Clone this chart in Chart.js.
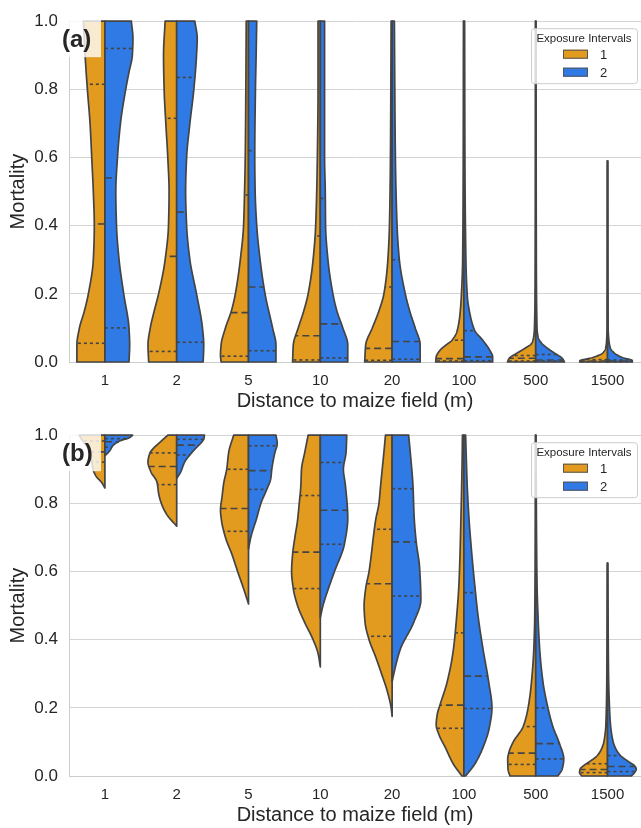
<!DOCTYPE html>
<html>
<head>
<meta charset="utf-8">
<script src="https://cdn.jsdelivr.net/npm/chart.js@4.4.0/dist/chart.umd.min.js"></script>
<style>
  body { margin: 0; background: #fff; }
  canvas { display: block; }
</style>
</head>
<body>
<canvas id="chartA" width="641" height="414"></canvas>
<canvas id="chartB" width="641" height="414"></canvas>
<script>
// distance categories (m) and exposure intervals
const CATEGORIES = ['1', '2', '5', '10', '20', '100', '500', '1500'];
const INTERVALS = ['1', '2'];
const Y_TICKS = [0, 0.2, 0.4, 0.6, 0.8, 1.0];

// relative kernel density per distance: [mortality, density]
const A_INT1_DENSITY = [
  [[0, 28.3], [0.05, 28.3], [0.1, 25.7], [0.15, 20.7], [0.2, 16.7], [0.3, 11.7], [0.4, 10.7], [0.5, 11.7], [0.6, 13.3], [0.7, 15], [0.8, 17.7], [0.9, 20], [1.0, 21.7]],
  [[0, 28.3], [0.05, 29], [0.1, 26.7], [0.15, 22.7], [0.2, 18.3], [0.3, 11.7], [0.4, 8.3], [0.5, 7.7], [0.6, 9], [0.7, 11], [0.8, 12.7], [0.9, 13.3], [1.0, 11.7]],
  [[0, 27.7], [0.02, 28.3], [0.05, 27.7], [0.1, 23.3], [0.15, 17.3], [0.2, 13.3], [0.3, 8.3], [0.4, 5], [0.5, 4], [0.6, 3.3], [0.8, 2.7], [1.0, 2.3]],
  [[0, 28], [0.05, 27.3], [0.1, 22.3], [0.15, 16.7], [0.2, 12.3], [0.3, 7.3], [0.4, 4.7], [0.6, 3], [0.8, 2.3], [1.0, 2.3]],
  [[0, 27.7], [0.05, 26.7], [0.1, 20], [0.15, 13.3], [0.2, 8.3], [0.3, 4.3], [0.4, 2.7], [0.6, 1.7], [0.8, 1.3], [1.0, 1]],
  [[0, 28.5], [0.015, 28], [0.035, 24], [0.05, 18], [0.064, 12], [0.09, 7], [0.14, 4], [0.2, 2.5], [0.3, 1.3], [0.6, 0.7], [1.0, 0.5]],
  [[0, 28.5], [0.01, 27], [0.026, 19], [0.04, 11], [0.055, 4], [0.075, 2], [0.1, 1.3], [0.2, 0.7], [0.5, 0.4], [1.0, 0.3]],
  [[0, 28], [0.003, 28], [0.013, 15], [0.026, 5], [0.04, 2], [0.06, 1], [0.1, 0.5], [0.59, 0.3]]
];
const A_INT2_DENSITY = [
  [[0, 24.3], [0.05, 25], [0.1, 24.3], [0.2, 19], [0.3, 14.3], [0.4, 11.7], [0.5, 11], [0.6, 12.7], [0.7, 15.7], [0.8, 21], [0.85, 24.3], [0.9, 27.7], [0.95, 28.3], [1.0, 26.7]],
  [[0, 26.7], [0.05, 27.3], [0.1, 26], [0.2, 20], [0.3, 13.3], [0.4, 10], [0.5, 9], [0.6, 10], [0.7, 13.3], [0.8, 17.3], [0.9, 20], [0.95, 20.7], [1.0, 18.3]],
  [[0, 27.7], [0.05, 27.7], [0.1, 24.3], [0.2, 16.7], [0.3, 11.7], [0.4, 8.3], [0.5, 6.7], [0.6, 6.3], [0.8, 7], [0.9, 7.7], [1.0, 8.3]],
  [[0, 27.7], [0.05, 27.7], [0.1, 22.7], [0.15, 16.7], [0.2, 12.7], [0.3, 7.7], [0.4, 5.3], [0.5, 5], [0.6, 4.3], [1.0, 4.3]],
  [[0, 28.3], [0.05, 28.3], [0.1, 23.3], [0.15, 17.7], [0.2, 13.3], [0.3, 7.3], [0.4, 5], [0.6, 3.3], [0.8, 2.7], [1.0, 2.3]],
  [[0, 29], [0.015, 29], [0.035, 26], [0.064, 19], [0.092, 11], [0.142, 6], [0.19, 3.5], [0.3, 2], [0.6, 1], [1.0, 0.7]],
  [[0, 29], [0.01, 27], [0.026, 19], [0.04, 12], [0.055, 6], [0.072, 2.5], [0.1, 1.3], [0.3, 0.6], [1.0, 0.3]],
  [[0, 25], [0.004, 25], [0.013, 15], [0.026, 7], [0.04, 3], [0.06, 1.5], [0.1, 0.6], [0.59, 0.3]]
];
const B_INT1_DENSITY = [
  [[0.845, 0], [0.86, 3], [0.88, 9], [0.9, 12], [0.93, 13.5], [0.95, 15], [0.97, 19], [0.99, 24], [1.0, 26]],
  [[0.733, 0], [0.767, 10], [0.796, 15], [0.825, 18], [0.863, 20], [0.892, 26], [0.921, 29], [0.948, 27], [0.96, 24], [0.979, 17], [1.0, 9]],
  [[0.505, 0], [0.55, 5], [0.6, 11], [0.65, 16.7], [0.7, 23.3], [0.75, 27.3], [0.78, 28.3], [0.82, 26.7], [0.86, 25], [0.9, 22], [0.95, 20], [1.0, 15]],
  [[0.32, 0], [0.36, 2.3], [0.4, 7.3], [0.45, 15.7], [0.5, 23], [0.55, 27.3], [0.6, 29], [0.65, 28], [0.7, 25.7], [0.75, 23], [0.8, 21.3], [0.85, 19.7], [0.9, 19], [0.95, 15.7], [1.0, 12.3]],
  [[0.175, 0], [0.2, 1], [0.25, 5], [0.3, 10.7], [0.35, 16.7], [0.4, 23.3], [0.45, 27.3], [0.5, 28.3], [0.55, 26.7], [0.6, 23.3], [0.65, 21], [0.7, 19], [0.75, 16.7], [0.8, 13.3], [0.85, 11.7], [0.9, 10], [0.95, 8.3], [1.0, 6.7]],
  [[0, 2], [0.035, 10.7], [0.085, 19], [0.12, 25], [0.15, 28], [0.18, 27], [0.21, 24], [0.275, 17], [0.37, 10.7], [0.47, 7.3], [0.565, 5], [0.76, 3], [0.95, 1.7], [1.0, 1.5]],
  [[0, 26], [0.02, 28], [0.05, 28.3], [0.07, 27], [0.1, 22.7], [0.145, 12.7], [0.2, 7.7], [0.276, 4.3], [0.37, 2], [0.47, 1], [0.7, 0.5], [1.0, 0.3]],
  [[0, 26], [0.01, 28.3], [0.02, 27.7], [0.03, 24.3], [0.04, 19.3], [0.05, 14.3], [0.06, 10.3], [0.08, 6], [0.1, 3.7], [0.15, 1.7], [0.3, 0.7], [0.625, 0.3]]
];
const B_INT2_DENSITY = [
  [[0.94, 0], [0.945, 2], [0.955, 5], [0.969, 8], [0.983, 15], [0.993, 25], [1.0, 28]],
  [[0.873, 0], [0.892, 4], [0.921, 8], [0.948, 15], [0.964, 20], [0.979, 25], [0.99, 27.5], [1.0, 28]],
  [[0.666, 0], [0.7, 2.3], [0.757, 8.3], [0.8, 12.5], [0.84, 18.3], [0.873, 22.5], [0.9, 23.5], [0.95, 26.7], [0.975, 29], [1.0, 27.7]],
  [[0.465, 0], [0.5, 2.7], [0.546, 7.7], [0.6, 14.3], [0.68, 24.3], [0.757, 27.7], [0.854, 25.3], [0.9, 23.3], [0.95, 26], [1.0, 26.7]],
  [[0.276, 0], [0.3, 1.7], [0.372, 8.3], [0.45, 21.7], [0.517, 29], [0.613, 27.7], [0.687, 24.3], [0.757, 22.3], [0.854, 21], [0.95, 18.3], [1.0, 16.7]],
  [[0, 1.7], [0.035, 11], [0.084, 19.3], [0.14, 25.5], [0.2, 28.3], [0.276, 25], [0.372, 19.3], [0.469, 14.3], [0.538, 11.7], [0.66, 7.7], [0.76, 5], [0.854, 3.3], [1.0, 1.7]],
  [[0, 22.3], [0.02, 26.7], [0.05, 28.3], [0.095, 24], [0.145, 17.3], [0.2, 12.3], [0.276, 7.3], [0.372, 4], [0.469, 2.3], [0.565, 1.3], [0.8, 0.6], [1.0, 0.3]],
  [[0, 24], [0.01, 27.3], [0.02, 29], [0.03, 27.3], [0.04, 22.3], [0.05, 17.3], [0.06, 13], [0.08, 8.3], [0.1, 5.7], [0.15, 3], [0.2, 2], [0.3, 1], [0.625, 0.3]]
];

// [Q1, median, Q3] per distance
const A_INT1_QUARTILES = [[0.055, 0.405, 0.815], [0.031, 0.31, 0.715], [0.017, 0.145, 0.49], [0.006, 0.077, 0.37], [0.005, 0.04, 0.22], [0.003, 0.01, 0.064], [0.003, 0.011, 0.019], [0.001, 0.003, 0.007]];
const A_INT2_QUARTILES = [[0.10, 0.54, 0.92], [0.058, 0.44, 0.835], [0.033, 0.22, 0.62], [0.012, 0.112, 0.48], [0.008, 0.06, 0.30], [0.004, 0.015, 0.092], [0.003, 0.006, 0.022], [0.001, 0.003, 0.006]];
const B_INT1_QUARTILES = [[0.921, 0.951, 0.983], [0.855, 0.908, 0.948], [0.718, 0.785, 0.9], [0.55, 0.657, 0.823], [0.41, 0.564, 0.724], [0.14, 0.208, 0.42], [0.034, 0.067, 0.145], [0.01, 0.019, 0.036]];
const B_INT2_QUARTILES = [[0.965, 0.981, 0.99], [0.942, 0.971, 0.988], [0.841, 0.896, 0.969], [0.68, 0.78, 0.92], [0.528, 0.687, 0.843], [0.198, 0.293, 0.538], [0.05, 0.095, 0.2], [0.013, 0.028, 0.06]];

const ORANGE = '#e29a1f';
const BLUE = '#2f7ae5';
const EDGE = '#444444';
const DENS_MAX = 29;     // density that maps to the full half width
const HALF_WIDTH = 0.4;  // in category units

Chart.defaults.font.family = "'Liberation Sans', Arial, sans-serif";
Chart.defaults.color = '#262626';

// monotone cubic through the density points
function pchip(pts) {
  const n = pts.length;
  const xs = pts.map(p => p[0]), ys = pts.map(p => p[1]);
  const h = [], dl = [];
  for (let k = 0; k < n - 1; k++) {
    h[k] = xs[k + 1] - xs[k];
    dl[k] = (ys[k + 1] - ys[k]) / h[k];
  }
  const m = new Array(n);
  m[0] = dl[0];
  m[n - 1] = dl[n - 2];
  for (let k = 1; k < n - 1; k++) {
    if (dl[k - 1] * dl[k] <= 0) m[k] = 0;
    else {
      const w1 = 2 * h[k] + h[k - 1], w2 = h[k] + 2 * h[k - 1];
      m[k] = (w1 + w2) / (w1 / dl[k - 1] + w2 / dl[k]);
    }
  }
  return function (v) {
    if (v <= xs[0]) return ys[0];
    if (v >= xs[n - 1]) return ys[n - 1];
    let k = 0;
    while (v > xs[k + 1]) k++;
    const t = (v - xs[k]) / h[k], t2 = t * t, t3 = t2 * t;
    const r = (2 * t3 - 3 * t2 + 1) * ys[k] + (t3 - 2 * t2 + t) * h[k] * m[k] +
      (-2 * t3 + 3 * t2) * ys[k + 1] + (t3 - t2) * h[k] * m[k + 1];
    return Math.max(r, 0);
  };
}

const violinPlugin = {
  id: 'violins',
  afterDatasetsDraw(chart) {
    const { ctx, scales: { x, y } } = chart;
    chart.data.datasets.forEach((ds, s) => {
      const side = s === 0 ? -1 : 1;
      ds.density.forEach((pts, i) => {
        const f = pchip(pts);
        const px = v => x.getPixelForValue(i + side * f(v) / DENS_MAX * HALF_WIDTH);
        const cx = x.getPixelForValue(i);
        const lo = pts[0][0], hi = pts[pts.length - 1][0];
        ctx.save();
        ctx.beginPath();
        ctx.moveTo(cx, y.getPixelForValue(lo));
        for (let k = 0; k < pts.length - 1; k++) {
          const a = pts[k][0], b = pts[k + 1][0];
          for (let j = 0; j < 16; j++) {
            const v = a + (b - a) * j / 16;
            ctx.lineTo(px(v), y.getPixelForValue(v));
          }
        }
        ctx.lineTo(px(hi), y.getPixelForValue(hi));
        ctx.lineTo(cx, y.getPixelForValue(hi));
        ctx.closePath();
        ctx.fillStyle = ds.backgroundColor;
        ctx.fill();
        ctx.strokeStyle = EDGE;
        ctx.lineWidth = 1.7;
        ctx.lineJoin = 'round';
        ctx.stroke();

        ctx.lineWidth = 1.6;
        ds.quartiles[i].forEach((q, k) => {
          ctx.beginPath();
          ctx.setLineDash(k === 1 ? [7, 4] : [3, 3]);
          ctx.moveTo(cx, y.getPixelForValue(q));
          ctx.lineTo(px(q), y.getPixelForValue(q));
          ctx.stroke();
        });
        ctx.restore();
      });
    });
  },
  afterDraw(chart) {
    const { ctx, chartArea } = chart;
    const opts = chart.options.plugins.violins;
    ctx.save();
    // panel label
    ctx.fillStyle = 'rgba(255,255,255,0.8)';
    ctx.fillRect(chartArea.left - 12, chartArea.top - 4, 44, 40);
    ctx.fillStyle = '#262626';
    ctx.font = "bold 24px 'Liberation Sans', Arial, sans-serif";
    ctx.textAlign = 'left';
    ctx.textBaseline = 'middle';
    ctx.fillText(opts.label, chartArea.left - 7, chartArea.top + 19);

    // legend
    const lx = chartArea.right - 110, ly = chartArea.top + 7;
    ctx.beginPath();
    ctx.roundRect(lx + 0.5, ly + 0.5, 106, 55, 3);
    ctx.fillStyle = 'rgba(255,255,255,0.8)';
    ctx.fill();
    ctx.strokeStyle = '#cccccc';
    ctx.lineWidth = 1;
    ctx.stroke();
    ctx.fillStyle = '#262626';
    ctx.font = "11.5px 'Liberation Sans', Arial, sans-serif";
    ctx.textAlign = 'center';
    ctx.fillText('Exposure Intervals', lx + 53, ly + 11);
    chart.data.datasets.forEach((ds, s) => {
      const yy = ly + 26 + s * 18;
      ctx.fillStyle = ds.backgroundColor;
      ctx.fillRect(lx + 32, yy - 4.5, 25, 9);
      ctx.strokeStyle = '#555';
      ctx.strokeRect(lx + 32.5, yy - 4, 24, 8);
      ctx.fillStyle = '#262626';
      ctx.font = "13px 'Liberation Sans', Arial, sans-serif";
      ctx.textAlign = 'left';
      ctx.fillText(ds.label, lx + 69, yy + 1);
    });
    ctx.restore();
  }
};

function makeChart(id, label, dens1, quart1, dens2, quart2) {
  return new Chart(document.getElementById(id), {
    type: 'scatter',
    data: {
      datasets: [
        { label: INTERVALS[0], data: [], backgroundColor: ORANGE, density: dens1, quartiles: quart1 },
        { label: INTERVALS[1], data: [], backgroundColor: BLUE, density: dens2, quartiles: quart2 }
      ]
    },
    options: {
      responsive: false,
      animation: false,
      layout: { padding: { top: 16, right: 0, left: 0, bottom: 0 } },
      plugins: {
        legend: { display: false },
        tooltip: { enabled: false },
        violins: { label: label }
      },
      scales: {
        x: {
          type: 'linear',
          min: -0.5,
          max: 7.466,
          afterBuildTicks: scale => { scale.ticks = CATEGORIES.map((c, i) => ({ value: i })); },
          afterFit: scale => { scale.height = 52; },
          grid: { display: false, drawTicks: false },
          border: { display: true, color: '#cccccc' },
          ticks: {
            autoSkip: false,
            maxRotation: 0,
            padding: 10,
            font: { size: 15 },
            callback: v => CATEGORIES[v]
          },
          title: {
            display: true,
            text: 'Distance to maize field (m)',
            font: { size: 20 },
            padding: { top: 0, bottom: 1 }
          }
        },
        y: {
          min: 0,
          max: 1,
          afterBuildTicks: scale => { scale.ticks = Y_TICKS.map(v => ({ value: v })); },
          afterFit: scale => { scale.width = 69; },
          grid: { color: '#d4d4d4', lineWidth: 1, drawTicks: false },
          border: { display: true, color: '#cccccc' },
          ticks: {
            padding: 11,
            font: { size: 17 },
            callback: v => v.toFixed(1)
          },
          title: {
            display: true,
            text: 'Mortality',
            font: { size: 20 },
            padding: { top: 6, bottom: 0 }
          }
        }
      }
    },
    plugins: [violinPlugin]
  });
}

makeChart('chartA', '(a)', A_INT1_DENSITY, A_INT1_QUARTILES, A_INT2_DENSITY, A_INT2_QUARTILES);
makeChart('chartB', '(b)', B_INT1_DENSITY, B_INT1_QUARTILES, B_INT2_DENSITY, B_INT2_QUARTILES);
</script>
</body>
</html>
